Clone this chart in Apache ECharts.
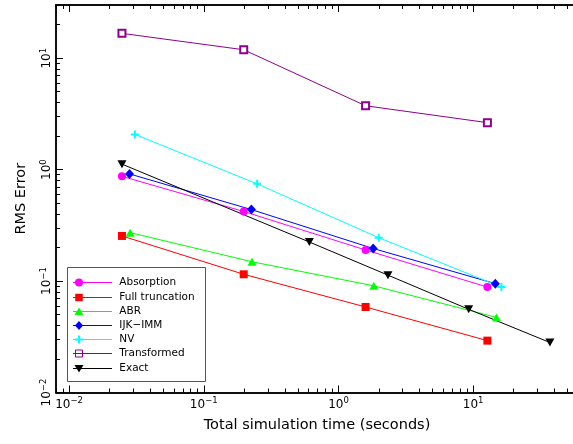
<!DOCTYPE html>
<html>
<head>
<meta charset="utf-8">
<script src="https://cdn.jsdelivr.net/npm/echarts@6/dist/echarts.min.js"></script>
<style>html,body{margin:0;padding:0;background:#fff}#c{width:573px;height:444px}</style>
</head>
<body>
<div id="c"></div>
<script>
// ---- data ----
const seriesNames = ['Absorption', 'Full truncation', 'ABR', 'IJK\u2212IMM', 'NV', 'Transformed', 'Exact'];
const absorptionTime = [0.0247, 0.198, 1.59, 12.75];
const absorptionErr  = [0.871, 0.421, 0.190, 0.0883];
const fullTruncTime  = [0.0247, 0.198, 1.59, 12.75];
const fullTruncErr   = [0.254, 0.115, 0.0585, 0.0292];
const abrTime        = [0.0284, 0.228, 1.83, 14.9];
const abrErr         = [0.272, 0.149, 0.0906, 0.0472];
const ijkTime        = [0.0281, 0.2256, 1.81, 14.6];
const ijkErr         = [0.915, 0.438, 0.196, 0.0948];
const nvTime         = [0.0308, 0.249, 1.99, 16.2];
const nvErr          = [2.07, 0.745, 0.245, 0.0883];
const transTime      = [0.0247, 0.198, 1.59, 12.75];
const transErr       = [16.7, 11.9, 3.74, 2.64];
const exactTime      = [0.0247, 0.608, 2.33, 9.26, 37.1];
const exactErr       = [1.12, 0.224, 0.113, 0.0558, 0.0281];
const xMajorTicks = [0.01, 0.1, 1, 10];
const yMajorTicks = [0.01, 0.1, 1, 10];
const xRange = [0.008, 60];
const yRange = [0.01, 30];
const xTitle = 'Total simulation time (seconds)';
const yTitle = 'RMS Error';

function minorTicks(lo, hi) {
  const out = [];
  for (let e = -3; e <= 2; e++) {
    for (let m = 2; m <= 9; m++) {
      const v = m * Math.pow(10, e);
      if (v >= lo * 0.9999 && v <= hi * 1.0001) out.push(v);
    }
  }
  return out;
}
const zip = (a, b) => a.map((v, i) => [v, b[i]]);

const FONT = 'DejaVu Sans';
const supFmt = v => {
  const e = Math.round(Math.log10(v));
  return '{b|10}{s|' + String(e).replace('-', '\u2212') + '}';
};
const supRich = {
  b: {fontFamily: FONT, fontSize: 12, color: '#000', padding: [2, 0, 0, 0], verticalAlign: 'bottom'},
  s: {fontFamily: FONT, fontSize: 8.5, color: '#000', lineHeight: 9, verticalAlign: 'top'}
};
const axLine = {show: true, onZero: false, lineStyle: {color: '#000', width: 1.5}};
const tickStyle = {color: '#000', width: 1};

function mkAxis(pos, range, customTicks, len, labels, extra) {
  return Object.assign({
    type: 'log', position: pos, min: range[0], max: range[1], logBase: 10,
    axisLine: axLine,
    axisTick: {show: true, inside: true, length: len, customValues: customTicks, lineStyle: tickStyle},
    axisLabel: labels ? Object.assign({show: true, customValues: customTicks, formatter: supFmt, rich: supRich, margin: 4}, labels) : {show: false},
    splitLine: {show: false}, minorTick: {show: false}
  }, extra || {});
}

const PLUS = 'path://M3,0h2v3h3v2h-3v3h-2v-3h-3v-2h3z';
const colors = ['#ff00ff', '#ff0000', '#00ff00', '#0000ff', '#00ffff', '#8f008f', '#000000'];

function mkSeries(i, t, e, symbol, size, extra) {
  return Object.assign({
    name: seriesNames[i], type: 'line', xAxisIndex: 0, yAxisIndex: 0,
    data: zip(t, e), symbol: symbol, symbolSize: size, showSymbol: true,
    color: colors[i],
    lineStyle: {color: colors[i], width: 1},
    itemStyle: {color: colors[i]},
    emphasis: {disabled: true}
  }, extra || {});
}

// ---- legend drawn as graphic (marker at left end of sample line, as in the reference) ----
const LG = {x: 67, y: 267, w: 138, h: 114, row0: 282.3, dy: 14.2, lx0: 73, lx1: 112, mx: 79, tx: 119.3};
function legendMarker(i, y) {
  const c = colors[i], mx = LG.mx;
  const st = {fill: c};
  switch (i) {
    case 0: return [{type: 'circle', shape: {cx: mx, cy: y, r: 4}, style: st}];
    case 1: return [{type: 'rect', shape: {x: mx - 3.75, y: y - 3.75, width: 7.5, height: 7.5}, style: st}];
    case 2: return [{type: 'polygon', shape: {points: [[mx, y - 4], [mx + 4.5, y + 3.5], [mx - 4.5, y + 3.5]]}, style: st}];
    case 3: return [{type: 'polygon', shape: {points: [[mx, y - 4.5], [mx + 4, y], [mx, y + 4.5], [mx - 4, y]]}, style: st}];
    case 4: return [
      {type: 'rect', shape: {x: mx - 4, y: y - 1, width: 8, height: 2}, style: st},
      {type: 'rect', shape: {x: mx - 1, y: y - 4, width: 2, height: 8}, style: st}];
    case 5: return [{type: 'rect', shape: {x: mx - 3.5, y: y - 3.5, width: 7, height: 7}, style: {fill: 'none', stroke: c, lineWidth: 1}}];
    default: return [{type: 'polygon', shape: {points: [[mx - 4.5, y - 3.5], [mx + 4.5, y - 3.5], [mx, y + 4]]}, style: st}];
  }
}
const legendEls = [{type: 'rect', shape: {x: LG.x + 0.5, y: LG.y + 0.5, width: LG.w, height: LG.h},
  style: {fill: '#fff', stroke: '#555', lineWidth: 1}}];
seriesNames.forEach((n, i) => {
  const y = Math.round(LG.row0 + i * LG.dy) + 0.5;
  legendEls.push({type: 'line', shape: {x1: LG.lx0, y1: y, x2: LG.lx1, y2: y}, style: {stroke: colors[i], lineWidth: 1}});
  legendMarker(i, y).forEach(m => legendEls.push(m));
  legendEls.push({type: 'text', x: LG.tx, y: y, style: {text: n, fill: '#000', font: '10.5px "' + FONT + '"', verticalAlign: 'middle', align: 'left'}});
});

const chart = echarts.init(document.getElementById('c'), null, {renderer: 'canvas'});
chart.setOption({
  animation: false,
  backgroundColor: '#fff',
  grid: {left: 56, top: 5, width: 522, height: 387.5, containLabel: false, outerBoundsMode: 'none'},
  xAxis: [
    mkAxis('bottom', xRange, xMajorTicks, 7, {}, {
      name: xTitle, nameLocation: 'middle', nameGap: 25,
      nameTextStyle: {fontFamily: FONT, fontSize: 14.5, color: '#000'}
    }),
    mkAxis('bottom', xRange, minorTicks(xRange[0], xRange[1]), 4, false),
    mkAxis('top', xRange, xMajorTicks, 7, false),
    mkAxis('top', xRange, minorTicks(xRange[0], xRange[1]), 4, false)
  ],
  yAxis: [
    mkAxis('left', yRange, yMajorTicks, 7, {rotate: 90, margin: 3}, {
      name: yTitle, nameLocation: 'middle', nameGap: 27,
      nameTextStyle: {fontFamily: FONT, fontSize: 14.5, color: '#000'}
    }),
    mkAxis('left', yRange, minorTicks(yRange[0], yRange[1]), 4, false)
  ],
  graphic: {elements: [{type: 'group', z: 100, children: legendEls}]},
  series: [
    mkSeries(0, absorptionTime, absorptionErr, 'circle', 8),
    mkSeries(1, fullTruncTime, fullTruncErr, 'rect', 8),
    mkSeries(2, abrTime, abrErr, 'triangle', [9, 8]),
    mkSeries(3, ijkTime, ijkErr, 'diamond', [9, 10]),
    mkSeries(4, nvTime, nvErr, PLUS, 8),
    mkSeries(5, transTime, transErr, 'emptyRect', 7, {itemStyle: {color: colors[5], borderWidth: 1}}),
    mkSeries(6, exactTime, exactErr, 'triangle', [9, 8], {symbolRotate: 180})
  ]
});
</script>
</body>
</html>
